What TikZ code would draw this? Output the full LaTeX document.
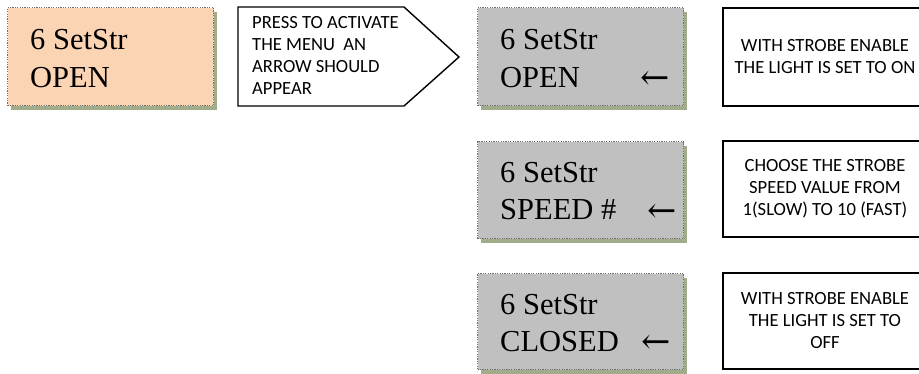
\documentclass[tikz,border=0pt]{standalone}
\usepackage{fontspec}
\setmainfont{Liberation Serif}
\newfontfamily\calfont{Carlito}
\newfontfamily\arrfont{DejaVu Serif}
\usetikzlibrary{shadows}
\definecolor{orangefill}{HTML}{FBD4B4}
\definecolor{grayfill}{HTML}{C0C0C0}
\definecolor{shadowc}{RGB}{160,172,138}
\definecolor{bordc}{RGB}{110,110,110}
\tikzset{
  lcdbox/.style={fill=#1, draw=bordc, line width=1.3pt, dash pattern=on 1.2pt off 1.2pt,
    minimum width=206pt, minimum height=98pt, anchor=north west, inner sep=0pt,
    drop shadow={shadow xshift=3.5pt, shadow yshift=-4pt, fill=shadowc, opacity=1}},
  lcdtext/.style={anchor=base west, inner sep=0pt, font=\fontsize{30.5}{36}\selectfont},
  lcdarrow/.style={anchor=west, inner sep=0pt, font=\arrfont\fontsize{35}{40}\selectfont},
  notebox/.style={draw=black, line width=1.5pt, minimum width=204pt, minimum height=97pt,
    align=center, inner sep=0pt, font=\calfont\fontsize{18.6}{22}\selectfont},
  notetext/.style={anchor=base west, inner sep=0pt, font=\calfont\fontsize{18.6}{22}\selectfont},
  pentline/.style={draw=black, line width=1.4pt, line join=miter}
}
\begin{document}
\begin{tikzpicture}[x=1pt,y=-1pt]
\useasboundingbox (0,0) rectangle (919,374);
\clip (0,0) rectangle (919,374);
\fill[white] (0,0) rectangle (919,374);

% left orange display
\node[lcdbox=orangefill] (b0) at (7,7) {};
\node[lcdtext] (b0a) at (30,50) {6 SetStr};
\node[lcdtext] (b0b) at (30,88) {OPEN};

% pentagon callout
\coordinate (p1) at (238,7);
\coordinate (p2) at (404,7);
\coordinate (p3) at (459,57);
\coordinate (p4) at (404,106);
\coordinate (p5) at (238,106);
\draw[pentline] (p1) -- (p2) -- (p3) -- (p4) -- (p5) -- cycle;
\node[notetext] (t1) at (252,28.5) {PRESS TO ACTIVATE};
\node[notetext] (t2) at (252,50.5) {THE MENU\ \ AN};
\node[notetext] (t3) at (252,72.5) {ARROW SHOULD};
\node[notetext] (t4) at (252,94.5) {APPEAR};

% gray displays
\node[lcdbox=grayfill] (g1) at (477,7) {};
\node[lcdtext] (g1a) at (500,50) {6 SetStr};
\node[lcdtext] (g1b) at (500,88) {OPEN};
\node[lcdarrow] (g1c) at (640,80) {←};

\node[lcdbox=grayfill, minimum height=97pt] (g2) at (477,141) {};
\node[lcdtext] (g2a) at (500,183) {6 SetStr};
\node[lcdtext] (g2b) at (500,220) {SPEED \#};
\node[lcdarrow] (g2c) at (647,213) {←};

\node[lcdbox=grayfill, minimum height=96pt] (g3) at (477,273) {};
\node[lcdtext] (g3a) at (500,315) {6 SetStr};
\node[lcdtext] (g3b) at (500,352) {CLOSED};
\node[lcdarrow] (g3c) at (641,344) {←};

% note boxes
\node[notebox, minimum height=98pt] (n1) at (825,57) {WITH STROBE ENABLE\\THE LIGHT IS SET TO ON};
\node[notebox, minimum height=96pt] (n2) at (825,189) {CHOOSE THE STROBE\\SPEED VALUE FROM\\1(SLOW) TO 10 (FAST)};
\node[notebox, minimum height=96pt] (n3) at (825,321) {WITH STROBE ENABLE\\THE LIGHT IS SET TO\\OFF};
\end{tikzpicture}
\end{document}
